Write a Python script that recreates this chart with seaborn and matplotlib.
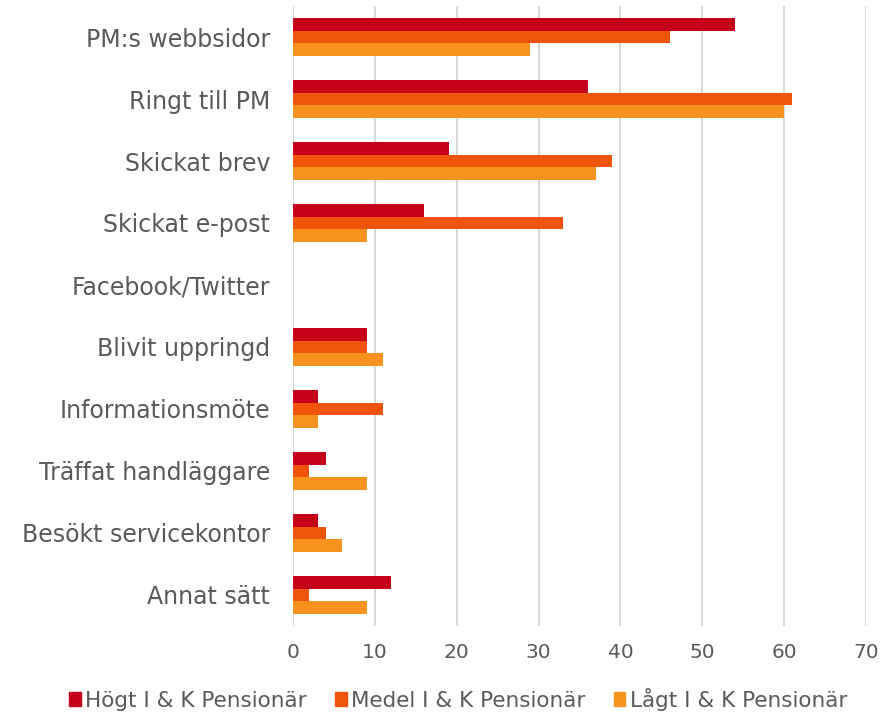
import matplotlib
matplotlib.use("Agg")
import matplotlib.pyplot as plt
import seaborn as sns
import pandas as pd

categories = ["PM:s webbsidor", "Ringt till PM", "Skickat brev", "Skickat e-post",
              "Facebook/Twitter", "Blivit uppringd", "Informationsmöte",
              "Träffat handläggare", "Besökt servicekontor", "Annat sätt"]
series = ["Högt I & K Pensionär", "Medel I & K Pensionär", "Lågt I & K Pensionär"]
hogt = [54, 36, 19, 16, 0, 9, 3, 4, 3, 12]
medel = [46, 61, 39, 33, 0, 9, 11, 2, 4, 2]
lagt = [29, 60, 37, 9, 0, 11, 3, 9, 6, 9]
colors = ["#C5001A", "#F0540A", "#F7921E"]
xticks = [0, 10, 20, 30, 40, 50, 60, 70]

rows = []
for s, vals in zip(series, [hogt, medel, lagt]):
    for c, v in zip(categories, vals):
        rows.append({"Kategori": c, "Serie": s, "Värde": v})
df = pd.DataFrame(rows)

sns.set_style("white")
plt.rcParams['font.family'] = ['DejaVu Sans']
textc = "#595959"

fig = plt.figure(figsize=(8.95, 7.15), dpi=100)
ax = fig.add_axes([0.3274, 0.1245, 0.6402, 0.8671])
sns.barplot(data=df, y="Kategori", x="Värde", hue="Serie", order=categories,
            hue_order=series, palette=colors, width=0.6, orient="h",
            saturation=1, linewidth=0, ax=ax, legend=True)
ax.set_xlim(0, 70)
ax.set_xticks(xticks)
ax.set_ylim(9.5, -0.5)
ax.grid(axis="x", color="#D9D9D9", linewidth=1.5)
ax.set_axisbelow(True)
for sp in ax.spines.values():
    sp.set_visible(False)
ax.set_xlabel("")
ax.set_ylabel("")
ax.tick_params(axis="both", length=0, colors=textc)
ax.tick_params(axis="x", pad=12, labelsize=14.5)
ax.tick_params(axis="y", pad=16.5, labelsize=17)
for lbl in ax.get_xticklabels() + ax.get_yticklabels():
    lbl.set_color(textc)
ax.get_legend().remove()
handles = [plt.Rectangle((0, 0), 1, 1, color=c) for c in colors]
fig.legend(handles, series, loc="center", bbox_to_anchor=(0.512, 0.022), ncol=3,
           frameon=False, fontsize=15.5, handlelength=0.55, handleheight=0.6,
           handletextpad=0.2, columnspacing=1.3, labelcolor=textc)
fig.savefig("out.png", dpi=100)
